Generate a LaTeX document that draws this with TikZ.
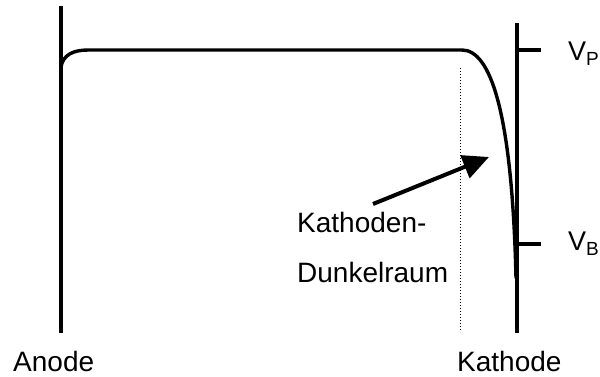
\documentclass[tikz,border=0pt]{standalone}
\usepackage{fontspec}
\setmainfont{Liberation Sans}
\usetikzlibrary{arrows.meta}
\newcommand{\potsub}[1]{{\fontsize{19}{21}\selectfont\raisebox{-5pt}{#1}}}
\begin{document}
\begin{tikzpicture}[x=1pt,y=-1pt,
  lbl/.style={inner sep=0pt,anchor=base west,font=\fontsize{28}{32}\selectfont},
  vlbl/.style={inner sep=0pt,anchor=base west,font=\fontsize{27}{32}\selectfont},
  electrode/.style={line width=3.8pt},
  potential/.style={line width=3.4pt,line cap=round},
  tick/.style={line width=3.4pt},
  pointer/.style={line width=4pt,-{Triangle[length=26pt,width=24pt]}}]
  \useasboundingbox (0,0) rectangle (600,376);
  % electrodes
  \coordinate (anodeTop) at (61,6);
  \coordinate (anodeBot) at (61,333);
  \coordinate (kathTop) at (517,23);
  \coordinate (kathBot) at (517,333);
  \draw[electrode] (anodeTop) -- (anodeBot);
  \draw[electrode] (kathTop) -- (kathBot);
  % potential curve
  \draw[potential] (61,67) .. controls (63,55) and (73,50) .. (88,50)
    -- (462,50) .. controls (490,50) and (512,110) .. (516,278);
  % dark space boundary
  \coordinate (dsTop) at (460,68);
  \coordinate (dsBot) at (460,332);
  \draw[line width=1pt,dotted] (dsTop) -- (dsBot);
  % potential marks
  \coordinate (vp) at (517,50);
  \coordinate (vpEnd) at (541,50);
  \coordinate (vb) at (517,244);
  \coordinate (vbEnd) at (541,244);
  \draw[tick] (vp) -- (vpEnd);
  \draw[tick] (vb) -- (vbEnd);
  \node[vlbl] (VP) at (568,60) {V\potsub{P}};
  \node[vlbl] (VB) at (568,250) {V\potsub{B}};
  % labels
  \node[lbl] (kd1) at (297,232) {Kathoden-};
  \node[lbl] (kd2) at (297,282) {Dunkelraum};
  \node[lbl] (anode) at (13,371) {Anode};
  \node[lbl] (kathode) at (457,371) {Kathode};
  % pointer into the dark space
  \coordinate (arrTail) at (373,204);
  \coordinate (arrTip) at (489,157);
  \draw[pointer] (arrTail) -- (arrTip);
\end{tikzpicture}
\end{document}
